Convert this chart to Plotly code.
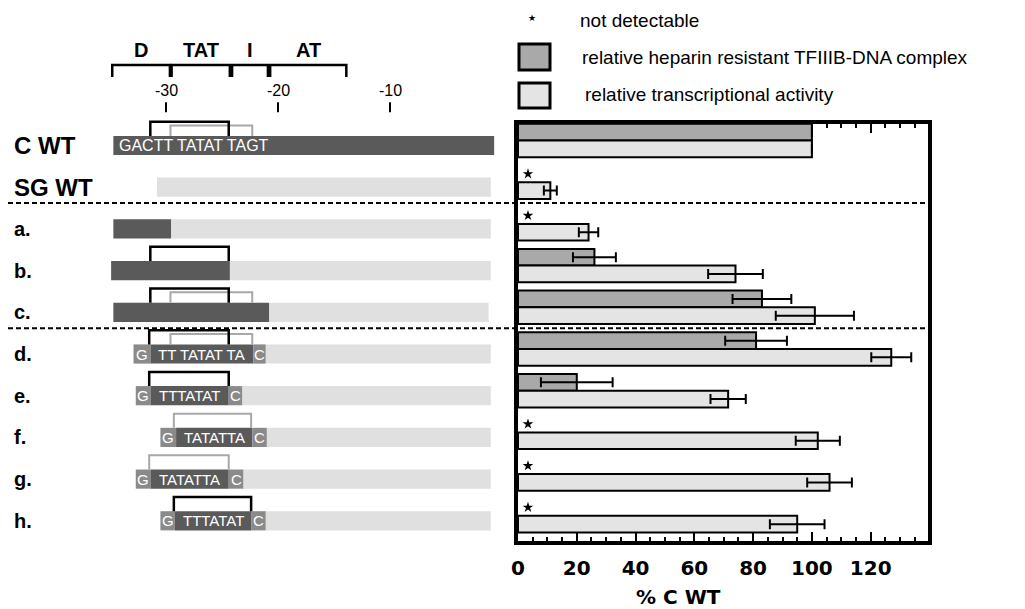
import plotly.graph_objects as go

# page has an 8px body margin; the figure is sized to fit the 1025x609 window
OFF = 8
W, H = 1025 - OFF, 609 - OFF  # 1017 x 601


def px(x):
    return (x - OFF) / W


def py(y):
    return 1 - (y - OFF) / H


# ---------------- data ----------------
groups = ["C WT", "SG WT", "a.", "b.", "c.", "d.", "e.", "f.", "g.", "h."]
heparin = [100, None, None, 26, 83, 81, 20, None, None, None]
heparin_err = [0, None, None, 7.3, 10, 10.5, 12.2, None, None, None]
transcription = [100, 11, 24, 74, 101, 127, 71.5, 102, 106, 95]
transcription_err = [0, 2.2, 3.3, 9.3, 13.3, 6.8, 6, 7.5, 7.6, 9.3]
not_detectable = [False, True, True, False, False, False, False, True, True, True]
x_ticks = [0, 20, 40, 60, 80, 100, 120]
separators_after = [1, 4]

# promoter schematic (nt relative to transcription start)
construct_start = [-34.7, -30.8, -34.7, -34.9, -34.7, -32.9, -32.7, -30.5, -32.7, -30.5]
g_box_end = [None, None, None, None, None, -31.4, -31.4, -29.1, -31.4, -29.2]
core_end = [-0.7, None, -29.55, -24.3, -20.8, -22.2, -24.4, -22.3, -24.4, -22.4]
c_box_end = [None, None, None, None, None, -21.1, -23.2, -21.0, -23.1, -21.1]
construct_end = [-0.7, -1.0, -1.0, -1.0, -1.2, -1.0, -1.0, -1.0, -1.0, -1.0]
core_text = ["GACTT TATAT TAGT", "", "", "", "", "TT TATAT TA", "TTTATAT", "TATATTA", "TATATTA", "TTTATAT"]
black_bracket = [(-31.4, -24.4), None, None, (-31.4, -24.4), (-31.4, -24.4),
                 (-31.5, -24.4), (-31.5, -24.4), None, None, (-29.3, -22.4)]
gray_bracket = [(-29.6, -22.3), None, None, None, (-29.6, -22.3),
                (-29.6, -22.3), None, (-29.3, -22.4), (-31.5, -24.4), None]
domains = ["D", "TAT", "I", "AT"]
domain_start = [-34.8, -29.5, -24.1, -20.7]
domain_end = [-29.65, -24.3, -20.9, -13.9]
scale_ticks = [-30, -20, -10]

# ---------------- styles ----------------
FONT = "Liberation Sans, Arial, sans-serif"
BOLD_WIDE = "DejaVu Sans, sans-serif"
DARK_BAR = "#a9a9a9"
LIGHT_BAR = "#e4e4e4"
SCH_DARK = "#5a5a5a"
SCH_LIGHT = "#e0e0e0"
SCH_FLANK = "#8a8a8a"
GRAY_BR = "#a8a8a8"

fig = go.Figure()

# ---------------- right panel: bars ----------------
hi = [i for i, v in enumerate(heparin) if v is not None]
fig.add_trace(go.Bar(
    y=[i - 0.2 for i in hi], x=[heparin[i] for i in hi], orientation="h", width=0.4,
    marker=dict(color=DARK_BAR, line=dict(color="black", width=2)),
    error_x=dict(type="data", array=[heparin_err[i] for i in hi], color="black", thickness=2, width=5),
    xaxis="x", yaxis="y", showlegend=False, hoverinfo="skip"))
fig.add_trace(go.Bar(
    y=[i + 0.2 for i in range(len(groups))], x=transcription, orientation="h", width=0.4,
    marker=dict(color=LIGHT_BAR, line=dict(color="black", width=2)),
    error_x=dict(type="data", array=transcription_err, color="black", thickness=2, width=5),
    xaxis="x", yaxis="y", showlegend=False, hoverinfo="skip"))
nd = [i for i, f in enumerate(not_detectable) if f]
fig.add_trace(go.Scatter(
    x=[3.4] * len(nd), y=[i - 0.2 for i in nd], mode="markers",
    marker=dict(symbol="star", size=8, color="black"),
    xaxis="x", yaxis="y", showlegend=False, hoverinfo="skip"))

# ---------------- left panel: schematic ----------------
row_y = [i + 0.12 for i in range(len(groups))]
BH = 0.46
light_b, light_x, light_y = [], [], []
dark_b, dark_x, dark_y = [], [], []
fl_b, fl_x, fl_y = [], [], []
for i in range(len(groups)):
    cs = g_box_end[i] if g_box_end[i] is not None else construct_start[i]
    if g_box_end[i] is not None:
        fl_b.append(construct_start[i]); fl_x.append(g_box_end[i] - construct_start[i]); fl_y.append(row_y[i])
    if core_end[i] is not None:
        dark_b.append(cs); dark_x.append(core_end[i] - cs); dark_y.append(row_y[i])
        ls = core_end[i]
    else:
        ls = construct_start[i]
    if c_box_end[i] is not None:
        fl_b.append(core_end[i]); fl_x.append(c_box_end[i] - core_end[i]); fl_y.append(row_y[i])
        ls = c_box_end[i]
    if construct_end[i] - ls > 0:
        light_b.append(ls); light_x.append(construct_end[i] - ls); light_y.append(row_y[i])

for b, x, y, c in [(light_b, light_x, light_y, SCH_LIGHT), (dark_b, dark_x, dark_y, SCH_DARK),
                   (fl_b, fl_x, fl_y, SCH_FLANK)]:
    fig.add_trace(go.Bar(base=b, x=x, y=y, orientation="h", width=BH,
                         marker=dict(color=c, line=dict(width=0)),
                         xaxis="x2", yaxis="y2", showlegend=False, hoverinfo="skip"))


def bracket_path(pairs, tops, bottoms):
    xs, ys = [], []
    for (a, b), t, bt in zip(pairs, tops, bottoms):
        xs += [a, a, b, b, None]
        ys += [bt, t, t, bt, None]
    return xs, ys


gp, gt, gb = [], [], []
bp, bt_, bb = [], [], []
for i in range(len(groups)):
    top = row_y[i] - BH / 2
    if gray_bracket[i] is not None:
        h = 0.25 if black_bracket[i] is not None else 0.34
        gp.append(gray_bracket[i]); gt.append(top - h); gb.append(top)
    if black_bracket[i] is not None:
        bp.append(black_bracket[i]); bt_.append(top - 0.34); bb.append(top)
xs, ys = bracket_path(gp, gt, gb)
fig.add_trace(go.Scatter(x=xs, y=ys, mode="lines", line=dict(color=GRAY_BR, width=2),
                         xaxis="x2", yaxis="y2", showlegend=False, hoverinfo="skip"))
xs, ys = bracket_path(bp, bt_, bb)
fig.add_trace(go.Scatter(x=xs, y=ys, mode="lines", line=dict(color="black", width=2.5),
                         xaxis="x2", yaxis="y2", showlegend=False, hoverinfo="skip"))

# header domain brackets
xs, ys = bracket_path(list(zip(domain_start, domain_end)), [-1.81] * 4, [-1.52] * 4)
fig.add_trace(go.Scatter(x=xs, y=ys, mode="lines", line=dict(color="black", width=2.5),
                         xaxis="x2", yaxis="y2", showlegend=False, hoverinfo="skip"))
# scale ticks
xs, ys = [], []
for t in scale_ticks:
    xs += [t, t, None]; ys += [-0.92, -0.68, None]
fig.add_trace(go.Scatter(x=xs, y=ys, mode="lines", line=dict(color="black", width=2),
                         xaxis="x2", yaxis="y2", showlegend=False, hoverinfo="skip"))

ann = []
for name, a, b in zip(domains, domain_start, domain_end):
    ann.append(dict(x=(a + b) / 2, y=-2.17, xref="x2", yref="y2", text=f"<b>{name}</b>",
                    showarrow=False, font=dict(family=FONT, size=20, color="black")))
for t in scale_ticks:
    ann.append(dict(x=t, y=-1.21, xref="x2", yref="y2", text=str(t), showarrow=False,
                    font=dict(family=FONT, size=16, color="black")))

# sequence texts
for i in range(len(groups)):
    if not core_text[i]:
        continue
    if g_box_end[i] is None:
        ann.append(dict(x=construct_start[i] + 0.35, y=row_y[i], xref="x2", yref="y2", xanchor="left",
                        text=core_text[i], showarrow=False, font=dict(family=FONT, size=16, color="white")))
    else:
        ann.append(dict(x=(construct_start[i] + g_box_end[i]) / 2, y=row_y[i], xref="x2", yref="y2",
                        text="G", showarrow=False, font=dict(family=FONT, size=15, color="white")))
        ann.append(dict(x=(g_box_end[i] + core_end[i]) / 2, y=row_y[i], xref="x2", yref="y2",
                        text=core_text[i], showarrow=False, font=dict(family=FONT, size=15, color="white")))
        ann.append(dict(x=(core_end[i] + c_box_end[i]) / 2, y=row_y[i], xref="x2", yref="y2",
                        text="C", showarrow=False, font=dict(family=FONT, size=15, color="white")))

# row labels
for i, g in enumerate(groups):
    big = "WT" in g
    ann.append(dict(x=px(12), y=row_y[i], xref="paper", yref="y2", xanchor="left", yanchor="middle",
                    text=f"<b>{g}</b>", showarrow=False,
                    font=dict(family=FONT, size=24 if big else 20, color="black")))

# x-axis title
ann.append(dict(x=px(723), y=py(597), xref="paper", yref="paper", yanchor="middle", text="<b>% C WT</b>",
                showarrow=False, font=dict(family=BOLD_WIDE, size=20, color="black")))

# legend
ann.append(dict(x=px(532), y=py(18), xref="paper", yref="paper", yanchor="middle", text="★",
                showarrow=False, font=dict(family="DejaVu Sans", size=9, color="black")))
leg_txt = [("not detectable", 578, 21), ("relative heparin resistant TFIIIB-DNA complex", 580, 57),
           ("relative transcriptional activity", 583, 95)]
for t, x, y in leg_txt:
    ann.append(dict(x=px(x), y=py(y), xref="paper", yref="paper", xanchor="left", yanchor="middle",
                    text=t, showarrow=False, font=dict(family=FONT, size=19, color="black")))

shapes = []
for col, y0, y1 in [(DARK_BAR, 44, 70), (LIGHT_BAR, 83, 108)]:
    shapes.append(dict(type="rect", xref="paper", yref="paper", x0=px(519), x1=px(550),
                       y0=py(y1), y1=py(y0), fillcolor=col, line=dict(color="black", width=3)))
for s in separators_after:
    shapes.append(dict(type="line", xref="paper", yref="y2", x0=0, x1=px(932), y0=s + 0.5, y1=s + 0.5,
                       line=dict(color="black", width=2, dash="5px,3px")))


# unit scale shared by both panels: row i centred at pixel 140.5 + 41.7*i
def yunit(pix):
    return (pix - 140.5) / 41.7


def nt(pix):
    return -30 + (pix - 166) / 11.2


fig.update_layout(
    width=W, height=H, margin=dict(l=0, r=0, t=0, b=0),
    paper_bgcolor="white", plot_bgcolor="rgba(0,0,0,0)",
    barmode="overlay", showlegend=False,
    annotations=ann, shapes=shapes,
    xaxis=dict(domain=[px(518), px(928)], range=[0, 139.5], anchor="y",
               showline=True, linewidth=4, linecolor="black", mirror="allticks",
               ticks="inside", ticklen=9, tickwidth=2, tickcolor="black",
               tickvals=x_ticks, ticktext=[str(v) for v in x_ticks],
               tickfont=dict(family=BOLD_WIDE, size=20, color="black", weight="bold"),
               minor=dict(dtick=5, tick0=0, ticks="inside", ticklen=4, tickwidth=2, tickcolor="black", showgrid=False),
               showgrid=False, zeroline=False, automargin=False, ticklabelstandoff=6,
               layer="below traces"),
    yaxis=dict(domain=[py(541), py(124)], range=[yunit(541), yunit(124)], anchor="x",
               showline=True, linewidth=4, linecolor="black", mirror=True,
               showticklabels=False, ticks="", showgrid=False, zeroline=False, automargin=False),
    xaxis2=dict(domain=[0, px(505)], range=[nt(OFF), nt(505)], anchor="y2", visible=False),
    yaxis2=dict(domain=[py(541), 1], range=[yunit(541), yunit(OFF)], anchor="x2", visible=False),
)

fig.write_html("out.html")
